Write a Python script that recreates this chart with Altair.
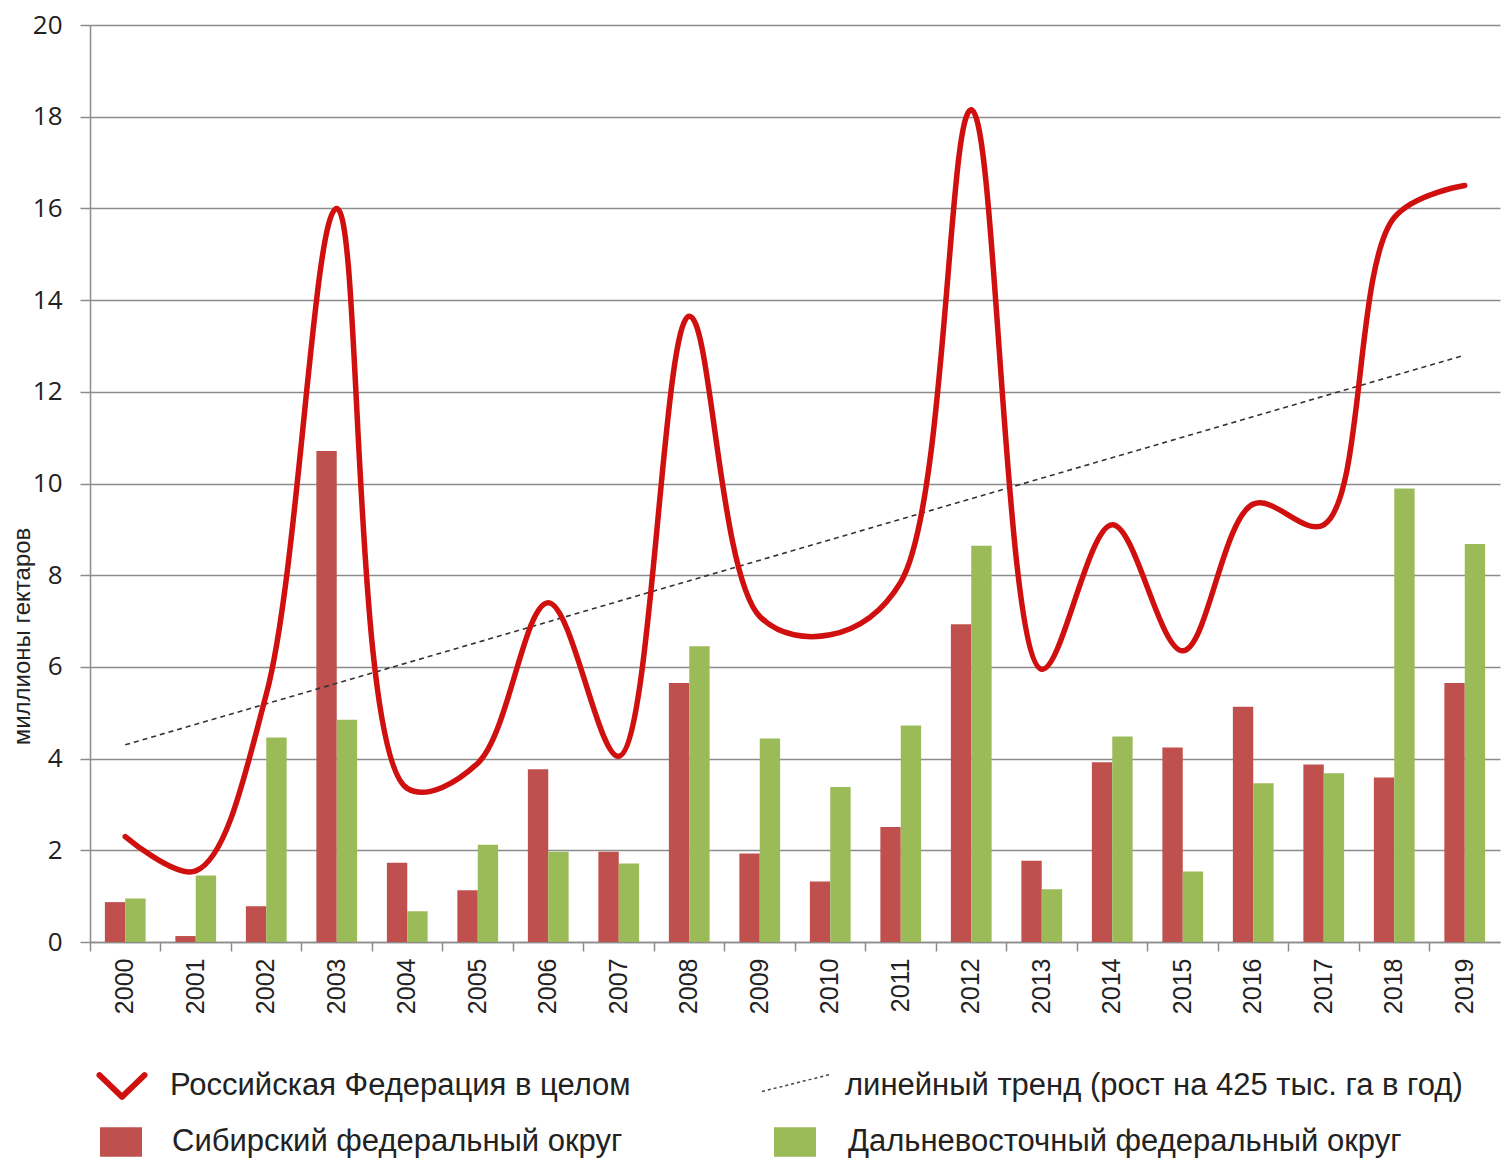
import altair as alt
import pandas as pd

years = ["2000", "2001", "2002", "2003", "2004", "2005", "2006", "2007", "2008", "2009",
         "2010", "2011", "2012", "2013", "2014", "2015", "2016", "2017", "2018", "2019"]
rf_total = [2.3, 1.55, 5.4, 16.0, 3.35, 3.9, 7.4, 4.05, 13.65, 7.1,
            6.7, 7.85, 18.15, 5.95, 9.1, 6.35, 9.55, 9.1, 15.8, 16.5]
siberia = [0.87, 0.13, 0.78, 10.71, 1.73, 1.13, 3.77, 1.97, 5.65, 1.93,
           1.32, 2.51, 6.93, 1.77, 3.92, 4.24, 5.13, 3.87, 3.59, 5.65]
far_east = [0.95, 1.45, 4.46, 4.85, 0.67, 2.12, 1.97, 1.71, 6.45, 4.44,
            3.38, 4.72, 8.64, 1.15, 4.48, 1.54, 3.46, 3.68, 9.89, 8.68]
trend_years = ["2000", "2019"]
trend_values = [4.3, 12.8]

RF = "Российская Федерация в целом"
TR = "линейный тренд (рост на 425 тыс. га в год)"
SIB = "Сибирский федеральный округ"
FE = "Дальневосточный федеральный округ"
Y_TITLE = "миллионы гектаров"

RED_BAR = "#c0504d"
GREEN_BAR = "#9bbb59"
LINE_RED = "#d0100f"
GRID = "#8c8c8c"
TXT = "#222222"

bars_df = pd.DataFrame({
    "year": years + years,
    "region": [SIB] * len(years) + [FE] * len(years),
    "value": siberia + far_east,
})
line_df = pd.DataFrame({"year": years, "value": rf_total})
trend_df = pd.DataFrame({"year": trend_years, "value": trend_values})

W, H = 1410, 917

x_enc = alt.X(
    "year:N", sort=years, title=None,
    scale=alt.Scale(domain=years, paddingInner=0, paddingOuter=0),
    axis=alt.Axis(labelAngle=270, bandPosition=0,
                  tickSize=9, tickWidth=1.5, tickColor=GRID,
                  domainColor=GRID, domainWidth=1.5, labelPadding=7,
                  labelFont="Liberation Sans", labelFontSize=25, labelColor=TXT,
                  labelOverlap=False, grid=False),
)
y_enc = alt.Y(
    "value:Q", title=Y_TITLE,
    scale=alt.Scale(domain=[0, 20], nice=False),
    axis=alt.Axis(values=list(range(0, 21, 2)), grid=True, gridColor=GRID, gridWidth=1.5,
                  domainColor=GRID, domainWidth=1.5, tickColor=GRID, tickSize=10, tickWidth=1.5,
                  labelFont="Open Sans", labelFontSize=26, labelColor=TXT, labelPadding=18,
                  titleFont="Liberation Sans", titleFontSize=24, titleFontWeight="normal",
                  titleColor=TXT, titleAngle=270, titleX=-68, titleY=611,
                  titleBaseline="middle", titleAlign="center"),
)

bars = alt.Chart(bars_df).mark_bar().encode(
    x=x_enc,
    xOffset=alt.XOffset("region:N", sort=[SIB, FE],
                        scale=alt.Scale(domain=[SIB, FE], paddingOuter=0.73, paddingInner=0)),
    y=y_enc,
    color=alt.Color("region:N", scale=alt.Scale(domain=[SIB, FE], range=[RED_BAR, GREEN_BAR]),
                    legend=None),
)

trend = alt.Chart(trend_df).mark_line(color="#333333", strokeWidth=1.6, strokeDash=[5, 4]).encode(
    x=x_enc, y=y_enc
)

line = alt.Chart(line_df).mark_line(interpolate="catmull-rom", color=LINE_RED, strokeWidth=5.5,
                                    strokeCap="round").encode(x=x_enc, y=y_enc)


def legend_text(label, px, py):
    return alt.Chart(pd.DataFrame({"t": [label]})).mark_text(
        align="left", baseline="middle", font="Liberation Sans", fontSize=31, color=TXT
    ).encode(text="t:N", x=alt.value(px), y=alt.value(py))


def legend_symbol(label, px, py, shape, size, **kw):
    return alt.Chart(pd.DataFrame({"t": [label]})).mark_point(
        shape=shape, size=size, opacity=1, **kw
    ).encode(x=alt.value(px), y=alt.value(py))


ROW1, ROW2 = 1061, 1117
legend_layers = [
    legend_symbol(RF, 32, ROW1, "M-1,-0.48L0,0.48L1,-0.48", 2025, filled=False,
                  stroke=LINE_RED, strokeWidth=6, strokeJoin="round", strokeCap="round"),
    legend_text(RF, 80, ROW1),
    legend_symbol(TR, 706, ROW1 - 3, "M-1,0.25L1,-0.25", 4624, filled=False,
                  stroke="#444444", strokeWidth=1.5, strokeDash=[3, 3]),
    legend_text(TR, 755, ROW1),
    legend_symbol(SIB, 31, ROW2, "M-1,-0.7L1,-0.7L1,0.7L-1,0.7Z", 1764, filled=True,
                  fill=RED_BAR, strokeWidth=0),
    legend_text(SIB, 82, ROW2),
    legend_symbol(FE, 705, ROW2, "M-1,-0.7L1,-0.7L1,0.7L-1,0.7Z", 1764, filled=True,
                  fill=GREEN_BAR, strokeWidth=0),
    legend_text(FE, 758, ROW2),
]

chart = alt.layer(bars, trend, line, *legend_layers).properties(
    width=W, height=H,
    autosize=alt.AutoSizeParams(type="none"),
    padding={"left": 82, "top": 17, "right": 2, "bottom": 222},
    background="white",
).configure_view(stroke=None)

chart.save("out.html", embed_options={"renderer": "svg", "actions": False})
